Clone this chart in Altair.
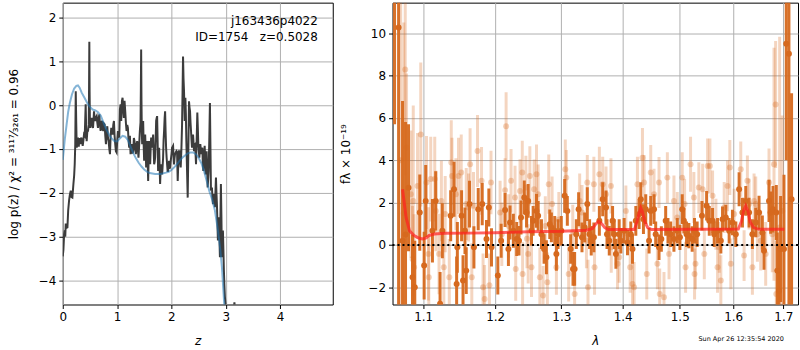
import altair as alt
import pandas as pd

FONT = "DejaVu Sans"
ORANGE = "#d6691e"

# ---------------- left panel: log p(z) ----------------
pz_curve = [
    (0.000, -3.45), (0.012, -3.30), (0.025, -2.95), (0.037, -2.86), (0.046, -3.00), (0.055, -2.70),
    (0.070, -2.80), (0.086, -2.79), (0.100, -2.40), (0.116, -2.18), (0.130, -2.05), (0.147, -1.95),
    (0.162, -2.10), (0.177, -2.11), (0.196, -1.80), (0.210, -1.60), (0.220, -1.35), (0.230, -0.90),
    (0.239, 0.32), (0.248, -0.40), (0.257, -0.97), (0.270, -0.80), (0.281, -0.74), (0.295, -0.95),
    (0.306, -0.75), (0.318, -0.89), (0.330, -0.80), (0.343, -0.74), (0.355, -0.85), (0.367, -0.93),
    (0.380, -0.80), (0.391, -0.67), (0.405, -0.70), (0.414, -0.30), (0.422, 0.02), (0.431, -0.55),
    (0.440, -0.82), (0.452, -0.60), (0.465, -0.59), (0.478, -0.45), (0.484, 0.40), (0.489, 1.45),
    (0.494, 0.30), (0.500, -0.40), (0.508, -0.52), (0.520, -0.40), (0.532, -0.29), (0.545, -0.45),
    (0.557, -0.52), (0.566, -0.35), (0.575, -0.14), (0.587, -0.30), (0.599, -0.36), (0.612, -0.28),
    (0.624, -0.25), (0.636, -0.40), (0.648, -0.52), (0.660, -0.30), (0.673, -0.21), (0.685, -0.45),
    (0.697, -0.59), (0.710, -0.40), (0.722, -0.36), (0.734, -0.55), (0.746, -0.59), (0.758, -0.42),
    (0.771, -0.44), (0.783, -0.70), (0.795, -0.89), (0.808, -0.60), (0.820, -0.48), (0.832, -0.75),
    (0.844, -0.82), (0.857, -1.00), (0.869, -1.12), (0.881, -0.70), (0.893, -0.52), (0.905, -0.62),
    (0.917, -0.67), (0.930, -0.45), (0.942, -0.36), (0.954, -0.70), (0.966, -0.89), (0.978, -1.05),
    (0.991, -1.08), (1.003, -0.80), (1.015, -0.59), (1.028, -0.70), (1.040, -0.74), (1.052, -0.10),
    (1.064, 0.02), (1.076, -0.36), (1.089, 0.09), (1.101, 0.17), (1.113, -0.10), (1.125, -0.29),
    (1.137, 0.10), (1.150, -0.14), (1.162, -0.40), (1.174, -0.59), (1.187, -0.45), (1.199, -0.52),
    (1.211, -0.80), (1.223, -0.97), (1.236, -0.70), (1.248, -1.12), (1.260, -0.95), (1.272, -0.89),
    (1.285, -1.10), (1.297, -1.05), (1.309, -0.75), (1.321, -0.82), (1.334, -1.00), (1.346, -1.12),
    (1.358, -0.90), (1.370, -0.82), (1.382, -1.00), (1.394, -1.20), (1.407, -0.90), (1.419, -0.59),
    (1.431, -0.40), (1.437, 0.30), (1.443, 1.27), (1.449, 0.10), (1.455, -0.60), (1.462, -0.89),
    (1.471, -0.70), (1.480, -0.36), (1.489, -0.90), (1.498, -1.27), (1.507, -1.00), (1.517, -0.67),
    (1.526, -1.00), (1.535, -1.42), (1.544, -1.10), (1.554, -0.82), (1.563, -1.30), (1.572, -1.73),
    (1.581, -1.20), (1.590, -0.82), (1.600, -1.10), (1.609, -1.35), (1.618, -1.00), (1.627, -0.74),
    (1.636, -0.90), (1.645, -0.97), (1.655, -0.80), (1.664, -0.67), (1.673, -1.00), (1.682, -1.35),
    (1.691, -1.30), (1.700, -1.20), (1.710, -0.80), (1.719, -0.36), (1.728, -0.30), (1.737, -0.25),
    (1.746, -0.80), (1.755, -1.50), (1.764, -1.20), (1.774, -0.97), (1.783, -1.40), (1.792, -1.80),
    (1.801, -1.50), (1.810, -1.35), (1.819, -1.45), (1.829, -1.58), (1.838, -1.40), (1.847, -1.20),
    (1.856, -0.80), (1.865, -0.59), (1.875, -0.30), (1.884, -0.14), (1.893, -0.60), (1.902, -0.97),
    (1.912, -1.20), (1.921, -1.35), (1.930, -1.50), (1.939, -1.50), (1.948, -1.35), (1.957, -1.27),
    (1.966, -1.45), (1.976, -1.42), (1.985, -1.30), (1.994, -1.20), (2.003, -1.10), (2.012, -0.97),
    (2.022, -0.95), (2.031, -0.93), (2.040, -1.20), (2.049, -1.35), (2.058, -1.20), (2.067, -1.12),
    (2.080, -1.08), (2.092, -1.05), (2.104, -1.08), (2.116, -1.73), (2.122, -1.50), (2.135, -1.05),
    (2.147, -1.05), (2.159, -1.30), (2.171, -1.42), (2.184, -1.00), (2.196, -0.44), (2.205, 0.30),
    (2.214, 1.11), (2.223, 0.60), (2.232, 0.32), (2.245, -0.36), (2.257, 0.17), (2.266, -0.20),
    (2.275, -0.82), (2.288, -1.50), (2.300, -2.11), (2.312, -1.00), (2.324, 0.09), (2.333, -0.05),
    (2.343, -0.14), (2.352, -0.40), (2.361, -0.59), (2.370, -0.80), (2.379, -0.97), (2.389, -0.80),
    (2.398, -0.67), (2.407, -0.85), (2.416, -1.05), (2.425, -0.90), (2.434, -0.89), (2.444, -1.10),
    (2.453, -1.35), (2.465, -0.80), (2.477, -0.17), (2.486, -0.50), (2.495, -0.89), (2.505, -1.05),
    (2.514, -1.20), (2.523, -1.00), (2.532, -0.89), (2.541, -1.00), (2.550, -1.12), (2.560, -1.00),
    (2.569, -0.97), (2.578, -1.30), (2.587, -1.50), (2.600, -1.20), (2.612, -0.93), (2.621, -1.20),
    (2.630, -1.58), (2.639, -1.30), (2.648, -1.05), (2.657, -1.40), (2.667, -1.88), (2.676, -1.70),
    (2.685, -1.50), (2.697, -0.80), (2.709, 0.05), (2.718, -0.90), (2.728, -1.95), (2.737, -1.92),
    (2.746, -1.88), (2.755, -2.10), (2.765, -2.26), (2.774, -2.10), (2.783, -2.03), (2.792, -2.20),
    (2.801, -2.33), (2.810, -2.00), (2.820, -1.65), (2.829, -2.00), (2.838, -2.26), (2.847, -2.70),
    (2.856, -3.09), (2.865, -2.80), (2.875, -2.56), (2.884, -3.00), (2.893, -3.47), (2.902, -2.60),
    (2.911, -1.80), (2.920, -2.50), (2.930, -3.47), (2.939, -3.10), (2.948, -2.86), (2.957, -3.30),
    (2.966, -3.77), (2.975, -4.10), (2.985, -4.38), (2.994, -4.50), (3.003, -4.61), (3.030, -4.90),
    (3.080, -5.50), (3.120, -5.00), (3.160, -4.50), (3.200, -5.20), (3.300, -6.00), (4.000, -7.00),
    (4.970, -8.00),
]

prior_curve = [
    (0.00, -1.25), (0.02, -1.00), (0.04, -0.75), (0.07, -0.45), (0.10, -0.15), (0.13, 0.05),
    (0.17, 0.25), (0.21, 0.38), (0.25, 0.44), (0.28, 0.45), (0.31, 0.40), (0.35, 0.28),
    (0.40, 0.17), (0.45, 0.05), (0.50, -0.04), (0.55, -0.10), (0.60, -0.12), (0.65, -0.16),
    (0.70, -0.24), (0.75, -0.40), (0.80, -0.55), (0.85, -0.67), (0.90, -0.76), (0.95, -0.82),
    (1.00, -0.83), (1.05, -0.76), (1.10, -0.70), (1.15, -0.72), (1.20, -0.80), (1.25, -0.95),
    (1.30, -1.10), (1.35, -1.22), (1.40, -1.32), (1.45, -1.40), (1.50, -1.47), (1.55, -1.52),
    (1.60, -1.55), (1.70, -1.57), (1.80, -1.57), (1.90, -1.54), (1.95, -1.52), (2.00, -1.48),
    (2.05, -1.42), (2.10, -1.35), (2.15, -1.27), (2.20, -1.20), (2.25, -1.15), (2.30, -1.10),
    (2.35, -1.08), (2.40, -1.08), (2.45, -1.12), (2.50, -1.20), (2.55, -1.32), (2.60, -1.50),
    (2.65, -1.73), (2.70, -1.97), (2.75, -2.15), (2.80, -2.40), (2.85, -2.80), (2.90, -3.30),
    (2.93, -3.70), (2.96, -4.30), (2.98, -4.70), (3.02, -5.50), (3.10, -7.00),
]

left_x_ticks = [0, 1, 2, 3, 4]
left_y_ticks = [-4, -3, -2, -1, 0, 1, 2]
label_line1 = "j163436p4022"
label_line2 = "ID=1754\u00a0\u00a0\u00a0z=0.5028"

# ---------------- right panel: spectrum ----------------
dark_points = [
    (1.0626, 14.0, 8.3), (1.0678, 10.27, 14.0), (1.0729, 0.2, 6.6), (1.0768, 0.5, 5.3),
    (1.0807, 2.7, 3.0), (1.0859, -1.52, 2.0), (1.0889, -2.0, 2.2), (1.0955, 1.53, 1.8),
    (1.1013, -0.97, 1.6), (1.1034, 2.08, 1.7), (1.1124, 0.67, 1.5), (1.1168, 2.08, 1.4),
    (1.1227, -2.77, 1.5), (1.1258, 0.67, 1.3), (1.1372, 1.38, 1.2), (1.1418, 2.63, 1.3),
    (1.1454, -1.84, 1.3), (1.1464, -0.11, 1.2), (1.1523, 1.38, 1.2), (1.1543, -1.68, 1.2),
    (1.1570, 0.67, 1.1), (1.1588, -1.21, 1.1), (1.1634, 1.93, 1.1), (1.1696, -0.11, 1.0),
    (1.1757, 1.69, 1.0), (1.1814, 1.93, 1.0), (1.1875, 0.28, 0.9), (1.1909, 1.77, 0.9),
    (1.1947, -0.11, 0.9), (1.2039, -1.44, 0.9), (1.2087, 0.20, 0.8), (1.2145, 1.65, 0.8),
    (1.2194, -0.19, 0.8), (1.2218, 1.06, 0.8), (1.2267, 0.67, 0.8), (1.2317, 0.28, 0.8),
    (1.2351, 0.20, 0.7), (1.2381, 1.30, 0.8), (1.2430, 2.24, 0.8), (1.2464, 1.53, 0.7),
    (1.2489, 2.08, 0.8), (1.2539, 0.67, 0.7), (1.2564, 1.14, 0.7), (1.2615, 1.61, 0.8),
    (1.2640, 1.38, 0.7), (1.2691, 0.51, 0.7), (1.2731, -0.19, 0.7), (1.2767, -0.58, 0.8),
    (1.2819, 0.98, 0.7), (1.2844, 0.83, 0.7), (1.2896, 0.67, 0.7), (1.2922, -0.42, 0.8),
    (1.2948, 0.51, 0.7), (1.2999, 0.67, 0.7), (1.3052, 2.32, 0.8), (1.3094, 1.61, 0.7),
    (1.3147, -0.19, 0.7), (1.3184, -1.13, 0.8), (1.3210, -1.13, 0.8), (1.3237, 0.51, 0.7),
    (1.3274, 1.69, 0.8), (1.3328, 0.36, 0.7), (1.3371, 0.83, 0.7), (1.3414, 1.93, 0.8),
    (1.3451, 0.51, 0.7), (1.3478, 0.20, 0.7), (1.3521, 0.36, 0.7), (1.3611, 1.14, 0.7),
    (1.3666, 2.16, 0.8), (1.3721, 1.77, 0.8), (1.3737, 0.51, 0.7), (1.3775, 0.20, 0.7),
    (1.3830, 1.14, 0.7), (1.3858, 0.51, 0.7), (1.3886, -0.42, 0.7), (1.3941, 0.51, 0.7),
    (1.3969, 0.20, 0.6), (1.4025, 0.67, 0.6), (1.4082, 0.12, 0.6), (1.4138, 0.51, 0.6),
    (1.4167, -0.19, 0.7), (1.4224, 1.14, 0.7), (1.4281, 1.46, 0.7), (1.4310, 2.16, 0.8),
    (1.4356, 1.22, 0.7), (1.4396, 1.69, 0.7), (1.4454, 0.20, 0.6), (1.4483, 1.61, 0.7),
    (1.4541, 1.69, 0.7), (1.4570, 0.51, 0.6), (1.4629, -0.11, 0.6), (1.4670, 0.28, 0.6),
    (1.4747, 1.14, 0.7), (1.4788, 0.67, 0.6), (1.4836, 0.51, 0.6), (1.4895, 0.28, 0.6),
    (1.4955, 0.67, 0.6), (1.5003, 0.36, 0.6), (1.5045, 1.69, 0.7), (1.5075, 1.14, 0.6),
    (1.5124, 0.51, 0.6), (1.5166, 0.44, 0.6), (1.5227, 0.28, 0.6), (1.5270, 0.67, 0.6),
    (1.5319, 0.51, 0.6), (1.5408, 1.38, 0.7), (1.5495, 1.85, 0.7), (1.5545, 1.14, 0.7),
    (1.5607, 1.14, 0.6), (1.5638, 0.51, 0.6), (1.5701, 0.67, 0.6), (1.5764, 0.20, 0.6),
    (1.5796, 1.22, 0.6), (1.5859, 1.30, 0.6), (1.5923, 0.67, 0.6), (1.5987, 1.06, 0.6),
    (1.6052, 0.51, 0.6), (1.6116, 2.63, 0.8), (1.6181, 1.53, 0.7), (1.6246, 2.08, 0.7),
    (1.6311, 1.53, 0.7), (1.6377, 0.51, 0.7), (1.6443, 1.06, 0.7), (1.6509, 1.53, 0.8),
    (1.6575, 0.59, 0.8), (1.6608, -0.27, 0.9), (1.6709, 2.08, 1.0), (1.6742, 1.53, 1.0),
    (1.6790, 1.69, 1.1), (1.6857, 1.53, 1.3), (1.6877, -1.21, 1.8), (1.6911, -2.16, 2.2),
    (1.6945, -0.19, 2.5), (1.7014, -0.19, 3.5), (1.7061, 9.50, 5.5), (1.7116, 9.03, 12.0),
    (1.7171, 2.16, 5.0),
]

light_points = [
    (1.0705, 4.0, 7.5), (1.0745, 1.5, 9.0), (1.0764, 8.28, 5.0), (1.0781, 4.6, 3.5),
    (1.0837, 2.40, 3.0), (1.0859, -0.66, 2.5), (1.0869, 2.08, 4.5), (1.0880, -1.05, 2.5),
    (1.0925, 2.79, 2.5), (1.0968, 5.22, 3.4), (1.1044, 2.95, 2.2), (1.1070, -0.42, 2.2),
    (1.1075, -1.52, 2.0), (1.1101, 3.11, 2.0), (1.1155, 3.11, 2.0), (1.1170, 1.61, 1.9),
    (1.1213, -0.42, 1.9), (1.1245, 2.08, 1.9), (1.1278, -1.05, 1.8), (1.1297, 1.46, 1.8),
    (1.1353, -1.52, 1.8), (1.1380, 3.89, 2.0), (1.1390, 3.26, 1.8), (1.1444, 2.40, 1.7),
    (1.1480, 3.26, 1.8), (1.1518, 3.42, 1.8), (1.1588, 1.93, 1.7), (1.1620, 1.77, 1.6),
    (1.1642, 3.81, 1.7), (1.1666, -1.52, 1.6), (1.1690, 1.85, 1.6), (1.1747, 4.44, 1.7),
    (1.1804, 3.03, 1.6), (1.1826, -2.00, 1.6), (1.1848, -2.55, 1.6), (1.1917, -1.90, 1.5),
    (1.1940, 2.95, 1.5), (1.2072, 1.53, 1.5), (1.2097, 0.51, 1.5), (1.2145, 2.59, 1.5),
    (1.2160, 5.61, 1.6), (1.2197, 0.90, 1.5), (1.2233, 3.03, 1.5), (1.2292, 2.24, 1.5),
    (1.2302, -1.13, 1.5), (1.2366, 2.55, 1.5), (1.2400, 3.42, 1.5), (1.2405, -1.37, 1.5),
    (1.2454, 2.71, 1.5), (1.2470, 0.30, 1.4), (1.2489, -0.42, 1.4), (1.2514, 3.26, 1.4),
    (1.2539, -1.05, 1.4), (1.2579, 2.63, 1.4), (1.2615, 3.34, 1.4), (1.2640, 2.40, 1.4),
    (1.2666, -1.52, 1.4), (1.2716, -2.39, 1.4), (1.2750, 0.90, 1.4), (1.2782, -1.76, 1.4),
    (1.2803, 2.87, 1.4), (1.2855, 1.93, 1.3), (1.2922, -1.05, 1.3), (1.2960, 1.20, 1.3),
    (1.3062, 3.58, 1.4), (1.3078, 3.18, 1.3), (1.3115, -1.37, 1.3), (1.3180, 0.60, 1.3),
    (1.3210, -2.31, 1.3), (1.3291, 2.08, 1.3), (1.3328, 1.53, 1.3), (1.3400, 0.20, 1.3),
    (1.3414, 2.95, 1.3), (1.3425, -2.00, 1.3), (1.3521, 2.87, 1.3), (1.3532, -1.05, 1.3),
    (1.3611, 3.34, 1.3), (1.3666, 2.87, 1.3), (1.3721, 2.40, 1.3), (1.3803, 2.79, 1.3),
    (1.3808, -0.11, 1.2), (1.3913, -0.89, 1.2), (1.3941, -0.58, 1.2), (1.4054, 1.61, 1.2),
    (1.4127, -1.05, 1.2), (1.4167, -1.84, 1.2), (1.4195, -2.00, 1.2), (1.4252, 2.87, 1.3),
    (1.4339, 4.12, 1.4), (1.4367, 2.95, 1.3), (1.4414, -1.37, 1.2), (1.4483, 3.42, 1.3),
    (1.4541, 2.40, 1.2), (1.4600, -0.89, 1.2), (1.4629, 2.95, 1.2), (1.4641, -2.31, 1.2),
    (1.4717, -2.47, 1.2), (1.4777, 3.18, 1.2), (1.4807, -0.42, 1.2), (1.4895, 2.08, 1.2),
    (1.4955, 1.30, 1.2), (1.5045, 3.18, 1.2), (1.5088, 1.93, 1.2), (1.5106, -1.05, 1.2),
    (1.5197, 3.81, 1.3), (1.5258, 2.24, 1.2), (1.5271, -1.37, 1.2), (1.5288, -0.89, 1.2),
    (1.5350, 2.71, 1.2), (1.5421, 2.63, 1.2), (1.5452, -0.42, 1.2), (1.5514, 3.73, 1.3),
    (1.5557, 3.73, 1.3), (1.5607, 2.32, 1.2), (1.5670, 0.98, 1.2), (1.5701, -1.05, 1.2),
    (1.5733, -0.11, 1.2), (1.5764, -1.68, 1.2), (1.5828, 1.77, 1.2), (1.5891, 2.79, 1.2),
    (1.5936, 3.66, 1.3), (1.5955, -0.89, 1.2), (1.6019, 1.46, 1.2), (1.6148, 3.58, 1.3),
    (1.6213, -0.50, 1.2), (1.6278, 3.03, 1.2), (1.6311, 1.93, 1.2), (1.6377, -1.05, 1.3),
    (1.6410, 2.08, 1.3), (1.6443, 1.93, 1.3), (1.6476, 0.51, 1.3), (1.6542, 0.20, 1.4),
    (1.6642, -0.42, 1.5), (1.6709, 2.95, 1.6), (1.6776, 0.51, 1.8), (1.6810, 3.81, 5.5),
    (1.6843, 6.63, 3.0), (1.6857, -2.31, 2.5), (1.6925, 0.83, 9.0), (1.6980, 1.61, 4.5),
]

model_curve = [
    (1.0729, 2.63), (1.0775, 1.30), (1.0820, 0.67), (1.0880, 0.45), (1.0940, 0.33), (1.0990, 0.28),
    (1.1040, 0.33), (1.1080, 0.45), (1.1150, 0.52), (1.1300, 0.55), (1.1600, 0.56), (1.2000, 0.58),
    (1.2500, 0.62), (1.3000, 0.65), (1.3400, 0.70), (1.3500, 0.78), (1.3550, 0.98), (1.3600, 1.12),
    (1.3650, 1.00), (1.3700, 0.82), (1.3760, 0.73), (1.4200, 0.73), (1.4240, 1.05), (1.4280, 1.50),
    (1.4310, 1.75), (1.4340, 1.55), (1.4380, 1.10), (1.4430, 0.82), (1.4500, 0.73), (1.6100, 0.75),
    (1.6160, 1.10), (1.6200, 1.60), (1.6245, 1.85), (1.6290, 1.60), (1.6330, 1.10), (1.6400, 0.82),
    (1.6500, 0.74), (1.7020, 0.74),
]

right_x_ticks = [1.1, 1.2, 1.3, 1.4, 1.5, 1.6, 1.7]
right_y_ticks = [-2, 0, 2, 4, 6, 8, 10]
timestamp = "Sun Apr 26 12:35:54 2020"

# ---------------- build tables ----------------
pz_df = pd.DataFrame(pz_curve, columns=["z", "logp"])
prior_df = pd.DataFrame(prior_curve, columns=["z", "logp"])
dark_df = pd.DataFrame(dark_points, columns=["wave", "flux", "err"])
light_df = pd.DataFrame(light_points, columns=["wave", "flux", "err"])
model_df = pd.DataFrame(model_curve, columns=["wave", "flux"])
one = pd.DataFrame({"k": [0]})

# ---------------- left panel ----------------
lx_scale = alt.Scale(domain=[0, 4.97], nice=False, zero=False)
ly_scale = alt.Scale(domain=[-4.55, 2.34], nice=False, zero=False)
lx_axis = alt.Axis(values=left_x_ticks, format="d", title="z", titleFontStyle="italic", titleY=36)
ly_axis = alt.Axis(values=left_y_ticks, format="d",
                   title="log p(z) / χ² = ³¹¹⁷⁄₃₂₆₁ = 0.96", titleX=-49)

def lx():
    return alt.X("z:Q", scale=lx_scale, axis=lx_axis)

def ly():
    return alt.Y("logp:Q", scale=ly_scale, axis=ly_axis)

pz_line = alt.Chart(pz_df).mark_line(color="#3c3c3c", strokeWidth=2, clip=True).encode(
    x=lx(), y=ly(), order="z:Q")
prior_line = alt.Chart(prior_df).mark_line(color="#1f77b4", opacity=0.55, strokeWidth=2, clip=True).encode(
    x=lx(), y=ly(), order="z:Q")
txt1 = alt.Chart(one).mark_text(text=label_line1, font=FONT, fontSize=12, align="right",
                                baseline="middle", color="black").encode(
    x=alt.value(256), y=alt.value(18))
txt2 = alt.Chart(one).mark_text(text=label_line2, font=FONT, fontSize=12, align="right",
                                baseline="middle", color="black").encode(
    x=alt.value(256), y=alt.value(34))

left = alt.layer(pz_line, prior_line, txt1, txt2).properties(width=271, height=303)

# ---------------- right panel ----------------
rx_scale = alt.Scale(type="log", domain=[1.06, 1.7305], nice=False)
ry_scale = alt.Scale(domain=[-2.81, 11.44], nice=False, zero=False)
rx_axis = alt.Axis(values=right_x_ticks, format=".1f", title="λ", titleFontStyle="italic", titleY=36)
ry_axis = alt.Axis(values=right_y_ticks, format="d", title="fλ × 10⁻¹⁹", titleX=-47)

def rx():
    return alt.X("wave:Q", scale=rx_scale, axis=rx_axis)

def ry(field):
    return alt.Y(field, scale=ry_scale, axis=ry_axis)

light_bars = alt.Chart(light_df).transform_calculate(
    lo="datum.flux - datum.err", hi="datum.flux + datum.err"
).mark_rule(color=ORANGE, opacity=0.28, strokeWidth=3, clip=True).encode(
    x=rx(), y=ry("lo:Q"), y2="hi:Q")
light_pts = alt.Chart(light_df).mark_circle(color=ORANGE, opacity=0.3, size=36, clip=True).encode(
    x=rx(), y=ry("flux:Q"))
dark_bars = alt.Chart(dark_df).transform_calculate(
    lo="datum.flux - datum.err", hi="datum.flux + datum.err"
).mark_rule(color=ORANGE, opacity=0.95, strokeWidth=3, clip=True).encode(
    x=rx(), y=ry("lo:Q"), y2="hi:Q")
dark_pts = alt.Chart(dark_df).mark_circle(color=ORANGE, opacity=1, size=36, clip=True).encode(
    x=rx(), y=ry("flux:Q"))
model_line = alt.Chart(model_df).mark_line(color="#ff2020", opacity=0.7, strokeWidth=3, clip=True).encode(
    x=rx(), y=ry("flux:Q"), order="wave:Q")
zero_line = alt.Chart(one).mark_rule(color="black", strokeDash=[2, 3], strokeWidth=2).encode(
    y=alt.datum(0, scale=ry_scale, axis=ry_axis))
stamp = alt.Chart(one).mark_text(text=timestamp, font=FONT, fontSize=6.5, align="center",
                                 baseline="middle", color="black").encode(
    x=alt.value(350), y=alt.value(338))

right = alt.layer(light_bars, light_pts, dark_bars, dark_pts, model_line, zero_line, stamp).properties(
    width=407, height=303)

chart = alt.hconcat(left, right, spacing=5).properties(
    padding={"left": 7, "top": 1, "right": 0, "bottom": 0},
    background="white",
).configure_view(
    stroke="black", strokeWidth=1
).configure_axis(
    labelFont=FONT, labelFontSize=12, labelColor="black",
    titleFont=FONT, titleFontSize=12, titleColor="black", titleFontWeight="normal",
    titleBaseline="middle",
    tickColor="black", tickSize=4, tickWidth=1, labelPadding=3,
    domain=False, gridColor="#b0b0b0", gridWidth=1,
    labelFlush=False, labelOverlap=False,
)

chart.save("out.html", embed_options={"renderer": "svg", "actions": False})
